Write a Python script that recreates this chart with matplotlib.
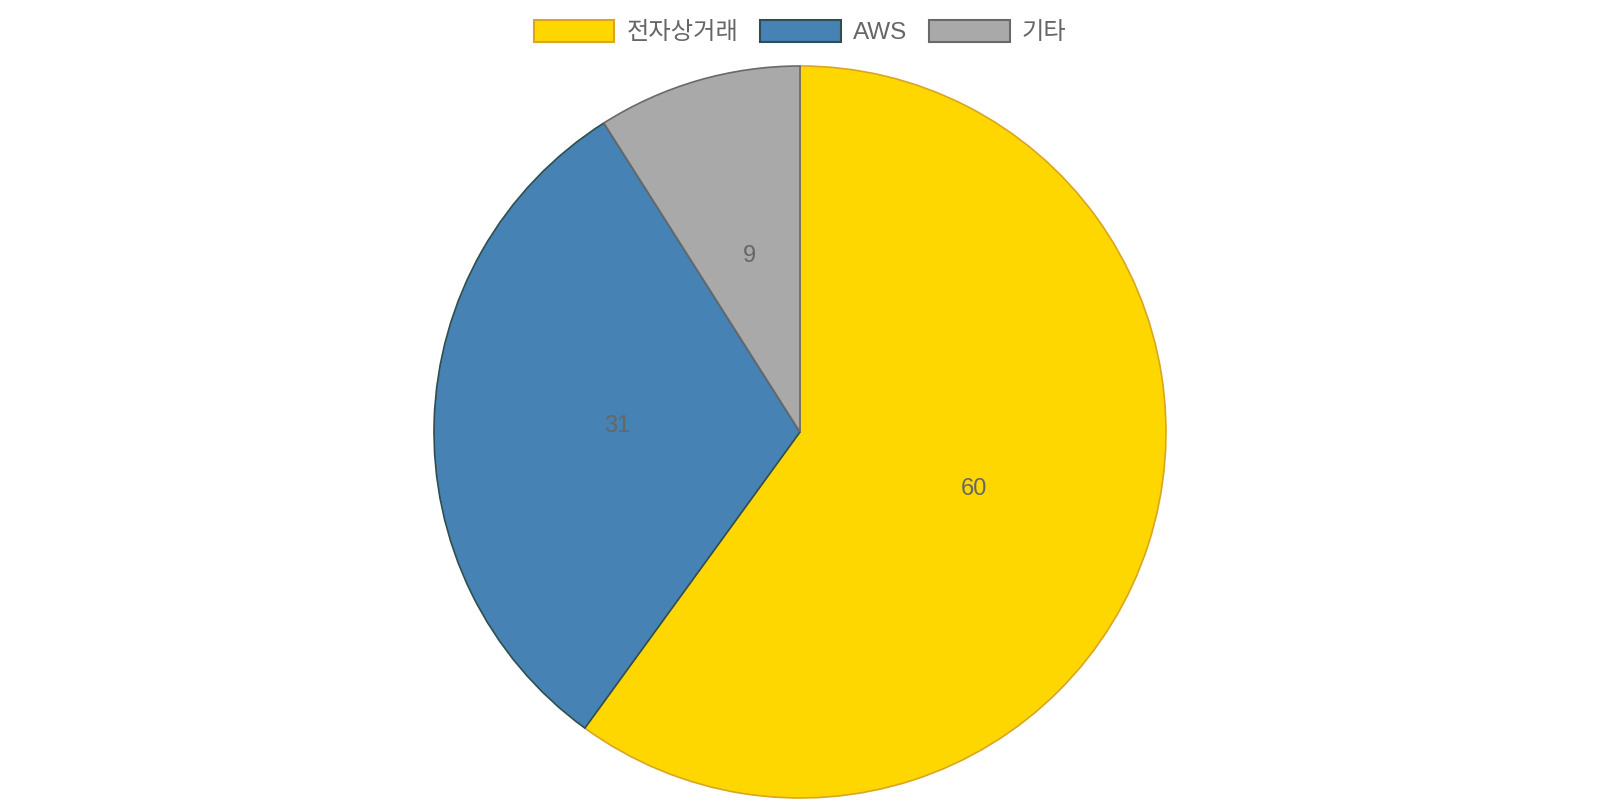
import matplotlib.pyplot as plt
from matplotlib.patches import Patch

# data
labels = ['전자상거래', 'AWS', '기타']
values = [60, 31, 9]
colors = ['#FFD700', '#4682B4', '#A9A9A9']
edges = ['#DAA520', '#2F4F4F', '#696969']

plt.rcParams['font.family'] = ['Liberation Sans', 'Noto Sans CJK KR', 'DejaVu Sans']

fig = plt.figure(figsize=(16, 8), dpi=100)
# pie area: centre ~ (800, 432) px, radius ~366 px
ax = fig.add_axes([434/1600, 2/800, 732/1600, 732/800])

total = sum(values)
wedges, _, autotexts = ax.pie(values, colors=colors, startangle=90, counterclock=False,
                              autopct=lambda p: f"{round(p*total/100)}", pctdistance=0.5,
                              textprops=dict(color='#666666', fontsize=17),
                              wedgeprops=dict(linewidth=1.2))
for w, ec in zip(wedges, edges):
    w.set_edgecolor(ec)
ax.set_xlim(-1, 1)
ax.set_ylim(-1, 1)
ax.set_aspect('equal')

handles = [Patch(facecolor=c, edgecolor=e, linewidth=1.5) for c, e in zip(colors, edges)]
fig.legend(handles, labels, loc='center', bbox_to_anchor=(0.5, 1 - 32/800), ncol=3,
           frameon=False, fontsize=17.5, labelcolor='#666666',
           handlelength=3.33, handleheight=1.0, handletextpad=0.5, columnspacing=0.88)

fig.savefig('out.png')
